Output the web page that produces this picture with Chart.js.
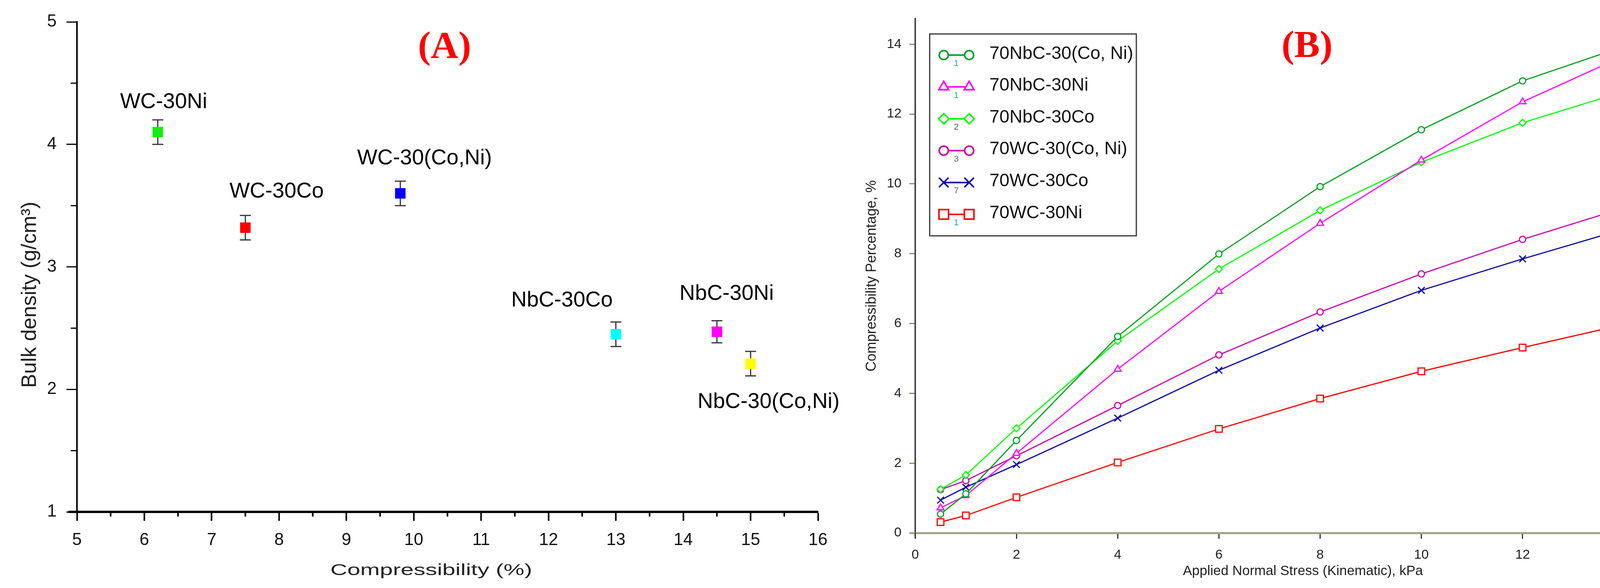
<!DOCTYPE html>
<html lang="en">
<head>
<meta charset="UTF-8">
<title>Bulk density and compressibility</title>
<script src="https://cdn.jsdelivr.net/npm/chart.js"></script>
<style>
  html, body { margin: 0; padding: 0; background: #fff; overflow: hidden; }
  #wrap { position: relative; width: 4353px; height: 1506px; background: #fff; }
  #chartA { position: absolute; left: 0; top: 0; }
  #chartB { position: absolute; left: 2180px; top: 0; }
</style>
</head>
<body>
<div id="wrap">
  <canvas id="chartA" width="2180" height="1506" style="width:2180px;height:1506px"></canvas>
  <canvas id="chartB" width="2173" height="1506" style="width:2173px;height:1506px"></canvas>
</div>
<script>
  // ---- (A) bulk density vs compressibility ----
  const samples = ['WC-30Ni', 'WC-30Co', 'WC-30(Co,Ni)', 'NbC-30Co', 'NbC-30Ni', 'NbC-30(Co,Ni)'];
  const compressibility = [6.2, 7.5, 9.8, 13.0, 14.5, 15.0];
  const bulkDensity = [4.10, 3.32, 3.60, 2.45, 2.47, 2.21];
  const densityError = [0.10, 0.10, 0.10, 0.10, 0.09, 0.10];
  const xTicksA = [5, 6, 7, 8, 9, 10, 11, 12, 13, 14, 15, 16];
  const yTicksA = [1, 2, 3, 4, 5];

  // ---- (B) compressibility vs applied stress ----
  const stress = [0.5, 1, 2, 4, 6, 8, 10, 12, 15];
  const seriesNames = ['70NbC-30(Co, Ni)', '70NbC-30Ni', '70NbC-30Co', '70WC-30(Co, Ni)', '70WC-30Co', '70WC-30Ni'];
  const nbcCoNi = [0.54, 1.12, 2.65, 5.63, 7.99, 9.92, 11.55, 12.95, 14.43];
  const nbcNi   = [0.72, 1.07, 2.28, 4.69, 6.92, 8.87, 10.68, 12.35, 14.32];
  const nbcCo   = [1.25, 1.66, 3.00, 5.50, 7.56, 9.24, 10.62, 11.75, 13.09];
  const wcCoNi  = [1.24, 1.50, 2.21, 3.65, 5.10, 6.33, 7.42, 8.41, 9.76];
  const wcCo    = [0.94, 1.31, 1.96, 3.29, 4.66, 5.87, 6.95, 7.85, 9.13];
  const wcNi    = [0.31, 0.50, 1.02, 2.02, 2.98, 3.85, 4.63, 5.31, 6.30];
  const legendIndex = ['1', '1', '2', '3', '7', '1'];
  const xTicksB = [0, 2, 4, 6, 8, 10, 12, 14];
  const yTicksB = [0, 2, 4, 6, 8, 10, 12, 14];

  // styles
  const FONT = '"Liberation Sans", Arial, sans-serif';
  const SERIF = '"Liberation Serif", "Times New Roman", serif';
  const sampleColors = ['#11ee11', '#ff0000', '#0000ff', '#00ffff', '#ff00ff', '#ffff00'];
  const labelOffsetA = [[15, -61], [80, -77], [62, -74], [-138, -71], [25, -82], [46, 114]];
  const seriesColors = ['#00a020', '#ff00ff', '#00ff00', '#cc00aa', '#0a0aa8', '#ff0000'];
  const seriesPoints = ['circle', 'triangle', 'rectRot', 'circle', 'crossRot', 'rect'];
  const seriesRadius = [8, 10, 9, 8, 12, 12];
  const indexColors = ['#1a9ad6', '#1a9ad6', '#555', '#666', '#666', '#1a9ad6'];

  function useTicks(list) {
    return function (scale) { scale.ticks = list.map(v => ({ value: v })); };
  }

  function marker(ctx, style, x, y, r) {
    ctx.beginPath();
    if (style === 'circle') {
      ctx.arc(x, y, r, 0, Math.PI * 2);
    } else if (style === 'rect') {
      const s = r * Math.SQRT1_2;
      ctx.rect(x - s, y - s, 2 * s, 2 * s);
    } else if (style === 'triangle') {
      ctx.moveTo(x, y - r);
      ctx.lineTo(x + r * 0.866, y + r / 2);
      ctx.lineTo(x - r * 0.866, y + r / 2);
      ctx.closePath();
    } else if (style === 'rectRot') {
      ctx.moveTo(x - r, y); ctx.lineTo(x, y - r); ctx.lineTo(x + r, y); ctx.lineTo(x, y + r);
      ctx.closePath();
    } else if (style === 'crossRot') {
      const d = r * Math.SQRT1_2;
      ctx.moveTo(x - d, y - d); ctx.lineTo(x + d, y + d);
      ctx.moveTo(x + d, y - d); ctx.lineTo(x - d, y + d);
    }
    if (style !== 'crossRot') ctx.fill();
    ctx.stroke();
  }

  // error bars, minor ticks, labels and titles for panel A
  const decorA = {
    id: 'decorA',
    beforeDatasetsDraw(chart) {
      const { ctx, scales: { x, y } } = chart;
      ctx.save();
      ctx.strokeStyle = '#333';
      ctx.lineWidth = 3;
      compressibility.forEach((c, i) => {
        const px = x.getPixelForValue(c);
        const top = y.getPixelForValue(bulkDensity[i] + densityError[i]);
        const bot = y.getPixelForValue(bulkDensity[i] - densityError[i]);
        ctx.beginPath();
        ctx.moveTo(px, top); ctx.lineTo(px, bot);
        ctx.moveTo(px - 14, top); ctx.lineTo(px + 14, top);
        ctx.moveTo(px - 14, bot); ctx.lineTo(px + 14, bot);
        ctx.stroke();
      });
      ctx.restore();
    },
    afterDraw(chart) {
      const { ctx, chartArea, scales: { x, y } } = chart;
      ctx.save();
      // x axis runs a little past the y axis
      ctx.fillStyle = '#000';
      ctx.fillRect(chartArea.left - 22, chartArea.bottom - 3, 22, 6);
      // minor ticks
      ctx.strokeStyle = '#000';
      ctx.lineWidth = 4;
      ctx.beginPath();
      for (let i = 0; i < xTicksA.length - 1; i++) {
        const px = x.getPixelForValue((xTicksA[i] + xTicksA[i + 1]) / 2);
        ctx.moveTo(px, chartArea.bottom + 3); ctx.lineTo(px, chartArea.bottom + 12);
      }
      ctx.stroke();
      ctx.lineWidth = 3;
      ctx.beginPath();
      for (let i = 0; i < yTicksA.length - 1; i++) {
        const py = y.getPixelForValue((yTicksA[i] + yTicksA[i + 1]) / 2);
        ctx.moveTo(chartArea.left - 16, py); ctx.lineTo(chartArea.left, py);
      }
      ctx.stroke();

      // sample labels
      ctx.fillStyle = '#000';
      ctx.font = '55px ' + FONT;
      ctx.textAlign = 'center';
      ctx.textBaseline = 'alphabetic';
      samples.forEach((s, i) => {
        const px = x.getPixelForValue(compressibility[i]) + labelOffsetA[i][0];
        const py = y.getPixelForValue(bulkDensity[i]) + labelOffsetA[i][1];
        ctx.fillText(s, px, py);
      });

      // axis titles
      ctx.fillStyle = '#222';
      ctx.save();
      ctx.translate(1104, 1473);
      ctx.scale(1.5, 1);
      ctx.font = '40px ' + FONT;
      ctx.fillText('Compressibility (%)', 0, 0);
      ctx.restore();
      ctx.save();
      ctx.translate(92, 755);
      ctx.rotate(-Math.PI / 2);
      ctx.font = '54px ' + FONT;
      ctx.fillText('Bulk density (g/cm\u00B3)', 0, 0);
      ctx.restore();

      // panel letter
      ctx.fillStyle = '#ff0000';
      ctx.font = 'bold 98px ' + SERIF;
      ctx.fillText('(A)', 1138, 148);
      ctx.restore();
    }
  };

  new Chart(document.getElementById('chartA'), {
    type: 'scatter',
    data: {
      datasets: [{
        label: 'Bulk density',
        data: compressibility.map((c, i) => ({ x: c, y: bulkDensity[i] })),
        pointStyle: 'rect',
        pointRadius: 19,
        pointBackgroundColor: sampleColors,
        pointBorderWidth: 0,
        showLine: false
      }]
    },
    options: {
      responsive: false,
      animation: false,
      devicePixelRatio: 1,
      layout: { padding: { left: 0, right: 86, top: 56, bottom: 0 } },
      plugins: { legend: { display: false }, tooltip: { enabled: false } },
      scales: {
        x: {
          type: 'linear', min: 5, max: 16,
          afterBuildTicks: useTicks(xTicksA),
          afterFit: s => { s.height = 195; },
          border: { display: true, color: '#000', width: 6 },
          grid: { drawOnChartArea: false, tickLength: 23, tickWidth: 4, tickColor: '#000' },
          ticks: { font: { family: FONT, size: 44 }, color: '#111', padding: 23, maxRotation: 0, autoSkip: false }
        },
        y: {
          type: 'linear', min: 1, max: 5,
          afterBuildTicks: useTicks(yTicksA),
          afterFit: s => { s.width = 197; },
          border: { display: true, color: '#000', width: 4 },
          grid: { drawOnChartArea: false, tickLength: 27, tickWidth: 3, tickColor: '#000' },
          ticks: { font: { family: FONT, size: 44 }, color: '#111', padding: 25, autoSkip: false }
        }
      }
    },
    plugins: [decorA]
  });

  // legend box, axis stubs and panel letter for B
  const decorB = {
    id: 'decorB',
    afterDraw(chart) {
      const { ctx, chartArea } = chart;
      ctx.save();
      // axis lines run a little past their crossing point
      ctx.fillStyle = '#a3a188';
      ctx.fillRect(chartArea.left - 14, chartArea.bottom - 2, 14, 5);
      ctx.fillStyle = '#444';
      ctx.fillRect(chartArea.left - 2, chartArea.bottom, 4, 14);

      ctx.strokeStyle = '#333';
      ctx.lineWidth = 3;
      ctx.fillStyle = '#fff';
      ctx.fillRect(200, 87, 529, 517);
      ctx.strokeRect(200, 87, 529, 517);
      chart.data.datasets.forEach((ds, i) => {
        const yy = 141 + i * 81.6;
        ctx.strokeStyle = ds.borderColor;
        ctx.fillStyle = '#fff';
        ctx.lineWidth = 4;
        ctx.beginPath();
        ctx.moveTo(236, yy); ctx.lineTo(301, yy);
        ctx.stroke();
        const r = ds.pointRadius * 1.45;
        marker(ctx, ds.pointStyle, 236, yy, r);
        marker(ctx, ds.pointStyle, 301, yy, r);
        ctx.fillStyle = indexColors[i];
        ctx.font = '22px ' + FONT;
        ctx.textAlign = 'center';
        ctx.textBaseline = 'middle';
        ctx.fillText(legendIndex[i], 268, yy + 22);
        ctx.fillStyle = '#111';
        ctx.font = '46px ' + FONT;
        ctx.textAlign = 'left';
        ctx.fillText(ds.label, 353, yy - 3);
      });
      ctx.fillStyle = '#ff0000';
      ctx.font = 'bold 98px ' + SERIF;
      ctx.textAlign = 'center';
      ctx.textBaseline = 'alphabetic';
      ctx.fillText('(B)', 3346 - 2180, 146);
      ctx.restore();
    }
  };

  const seriesData = [nbcCoNi, nbcNi, nbcCo, wcCoNi, wcCo, wcNi];

  new Chart(document.getElementById('chartB'), {
    type: 'line',
    data: {
      datasets: seriesData.map((vals, i) => ({
        label: seriesNames[i],
        data: stress.map((s, k) => ({ x: s, y: vals[k] })),
        borderColor: seriesColors[i],
        backgroundColor: '#fff',
        borderWidth: 3,
        tension: 0,
        pointStyle: seriesPoints[i],
        pointRadius: seriesRadius[i],
        pointBorderWidth: 3,
        pointBorderColor: seriesColors[i],
        pointBackgroundColor: '#fff'
      }))
    },
    options: {
      responsive: false,
      animation: false,
      devicePixelRatio: 1,
      layout: { padding: { left: 0, right: 25, top: 48, bottom: 0 } },
      plugins: { legend: { display: false }, tooltip: { enabled: false } },
      scales: {
        x: {
          type: 'linear', min: 0, max: 15.32,
          afterBuildTicks: useTicks(xTicksB),
          afterFit: s => { s.height = 141; },
          border: { display: true, color: '#a3a188', width: 5 },
          grid: { drawOnChartArea: false, tickLength: 15, tickWidth: 3, tickColor: '#333' },
          ticks: { font: { family: FONT, size: 34 }, color: '#222', padding: 21, maxRotation: 0, autoSkip: false },
          title: {
            display: true, text: 'Applied Normal Stress (Kinematic), kPa',
            font: { family: FONT, size: 35 }, color: '#222', padding: { top: 0, bottom: 22 }
          }
        },
        y: {
          type: 'linear', min: 0, max: 14.73,
          afterBuildTicks: useTicks(yTicksB),
          afterFit: s => { s.width = 163; },
          border: { display: true, color: '#444', width: 4 },
          grid: { drawOnChartArea: false, tickLength: 15, tickWidth: 3, tickColor: '#8c8a6e' },
          ticks: { font: { family: FONT, size: 34 }, color: '#222', padding: 20, autoSkip: false },
          title: {
            display: true, text: 'Compressibility Percentage, %',
            font: { family: FONT, size: 36 }, color: '#222', padding: { top: 30, bottom: 0 }
          }
        }
      }
    },
    plugins: [decorB]
  });
</script>
</body>
</html>
